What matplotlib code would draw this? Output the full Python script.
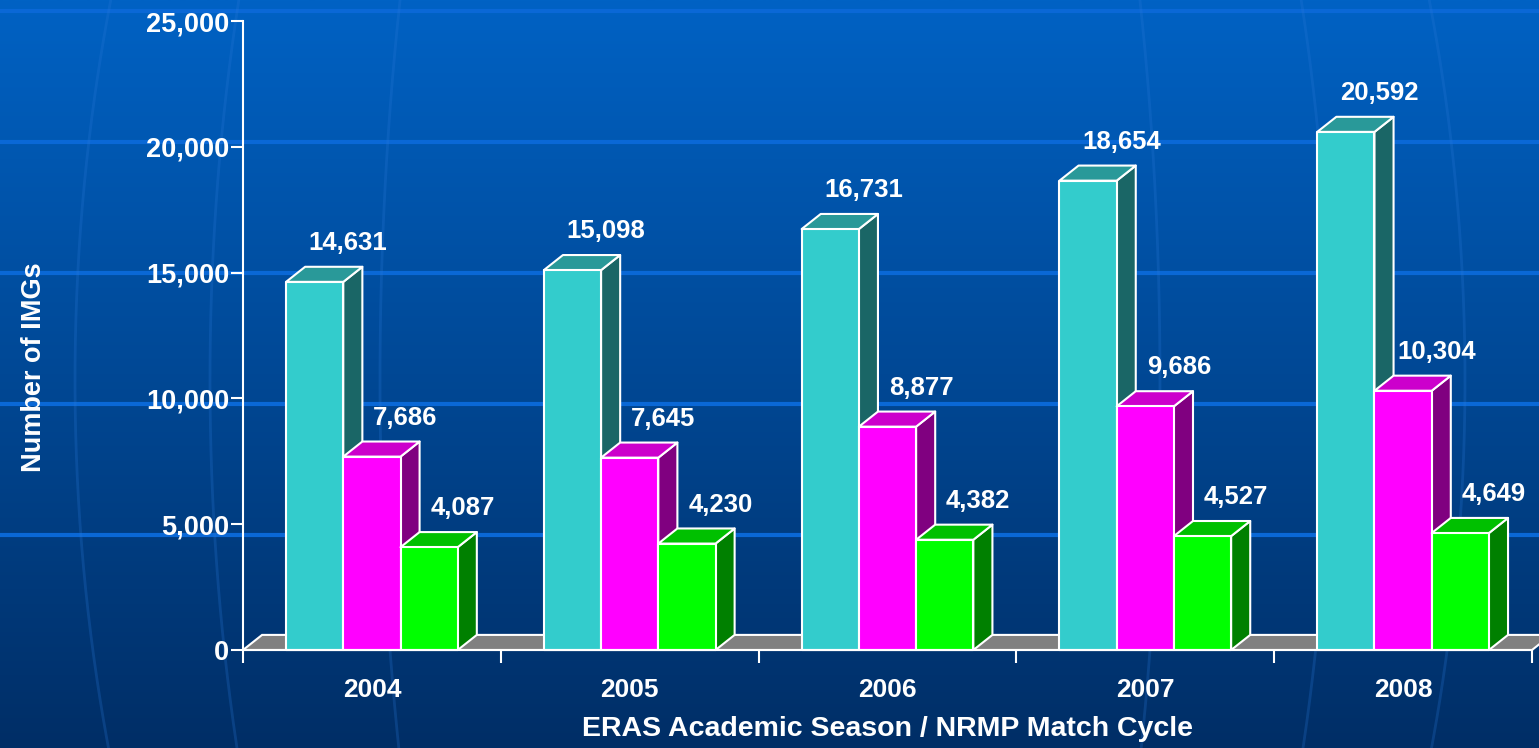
import numpy as np
import matplotlib.pyplot as plt
from matplotlib.patches import Polygon

# chart data
years = ['2004', '2005', '2006', '2007', '2008']
series_a = [14631, 15098, 16731, 18654, 20592]
series_b = [7686, 7645, 8877, 9686, 10304]
series_c = [4087, 4230, 4382, 4527, 4649]

# front / top / side colours for each series
colors = [
    ('#33CCCC', '#299999', '#1A6666'),
    ('#FF00FF', '#CC00CC', '#800080'),
    ('#00FF00', '#00C000', '#008000'),
]

plt.rcParams['font.family'] = ['Liberation Sans', 'DejaVu Sans']
plt.rcParams['font.weight'] = 'bold'

W, H = 1539, 748
fig = plt.figure(figsize=(W / 100, H / 100), dpi=100)

# slide background: blue gradient, horizontal bands and faint globe arcs
bg = fig.add_axes([0, 0, 1, 1], zorder=0)
top = np.array([0x00, 0x62, 0xC4]) / 255
bot = np.array([0x00, 0x2E, 0x66]) / 255
t = np.linspace(0, 1, 400)[:, None]
grad = top * (1 - t) + bot * t
bg.imshow(grad[:, None, :].repeat(2, axis=1), aspect='auto', extent=[0, W, H, 0])
for yy in [11, 142, 273, 404, 535]:
    bg.plot([0, W], [yy, yy], color='#0A68D6', lw=3)
ys = np.linspace(0, H, 200)
cx, cy, b = 770, 380, 1200
for a in [695, 560, 390]:
    xs = a * np.sqrt(1 - ((ys - cy) / b) ** 2)
    bg.plot(cx - xs, ys, color='#2a78d8', lw=2, alpha=0.25)
    bg.plot(cx + xs, ys, color='#2a78d8', lw=2, alpha=0.25)
bg.set_xlim(0, W)
bg.set_ylim(H, 0)
bg.axis('off')

# main chart axes
ax = fig.add_axes([243 / W, (H - 650) / H, (1532 - 243) / W, (650 - 21) / H], zorder=1)
ax.patch.set_alpha(0)
ax.set_xlim(0, 5)
ax.set_ylim(0, 25000)

dx = 0.074
dy = 600
bw = 0.222

# floor
floor = Polygon([(0, 0), (5, 0), (5 + dx, dy), (dx, dy)], closed=True,
                facecolor='#808080', edgecolor='white', lw=1.5, clip_on=False, zorder=2)
ax.add_patch(floor)


def bar3d(x0, h, cols):
    front, topc, side = cols
    kw = dict(edgecolor='white', lw=1.5, clip_on=False, zorder=3, joinstyle='round')
    ax.add_patch(Polygon([(x0 + bw, 0), (x0 + bw + dx, dy), (x0 + bw + dx, h + dy), (x0 + bw, h)],
                         facecolor=side, **kw))
    ax.add_patch(Polygon([(x0, h), (x0 + dx, h + dy), (x0 + bw + dx, h + dy), (x0 + bw, h)],
                         facecolor=topc, **kw))
    ax.add_patch(Polygon([(x0, 0), (x0 + bw, 0), (x0 + bw, h), (x0, h)],
                         facecolor=front, **kw))


for i in range(len(years)):
    for j, vals in enumerate([series_a, series_b, series_c]):
        x0 = i + 0.5 + (j - 1.5) * bw
        bar3d(x0, vals[i], colors[j])
        ax.text(x0 + bw / 2 + 0.13, vals[i] + 1550, f'{vals[i]:,}', color='white',
                fontsize=18.5, fontweight='bold', ha='center', va='center', zorder=4)

# axes styling
for s in ['top', 'right']:
    ax.spines[s].set_visible(False)
for s in ['left', 'bottom']:
    ax.spines[s].set_color('white')
    ax.spines[s].set_linewidth(1.5)
    ax.spines[s].set_zorder(5)

ax.set_yticks(range(0, 25001, 5000))
ax.set_yticklabels([f'{v:,}' for v in range(0, 25001, 5000)])
ax.set_xticks(range(0, 6))
ax.set_xticklabels([])
ax.set_xticks([i + 0.5 for i in range(len(years))], minor=True)
ax.set_xticklabels(years, minor=True)
ax.tick_params(axis='both', which='major', colors='white', width=1.5, length=9, labelsize=19.5)
ax.tick_params(axis='x', which='minor', length=0, colors='white', labelsize=19, pad=20)
ax.tick_params(axis='y', pad=1)
for lab in ax.get_yticklabels() + ax.get_xticklabels(minor=True):
    lab.set_fontweight('bold')

ax.set_xlabel('ERAS Academic Season / NRMP Match Cycle', color='white', fontsize=20.5,
              fontweight='bold', labelpad=10)
ax.set_ylabel('Number of IMGs', color='white', fontsize=19.5, fontweight='bold')
ax.yaxis.set_label_coords(-0.152, 0.45)

fig.savefig('out.png', dpi=100)
